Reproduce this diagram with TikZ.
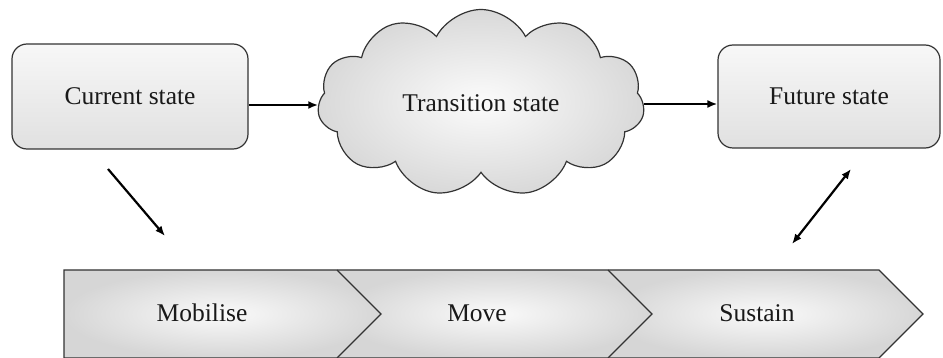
\documentclass[tikz,border=0pt]{standalone}
\usepackage{fontspec}
\setmainfont{Liberation Serif}
\usetikzlibrary{shapes.symbols,arrows.meta,calc}
\begin{document}
\begin{tikzpicture}[x=1pt,y=-1pt,
  statebox/.style={draw=black!80, line width=1.2pt, rounded corners=15pt,
    top color=gray!6, bottom color=gray!24, minimum width=236pt,
    minimum height=105pt, inner sep=0pt},
  txt/.style={font=\fontsize{25.5}{30}\selectfont, text=black!90},
  conn/.style={line width=2.2pt, -{Latex[length=10pt,width=8pt]}},
  dconn/.style={line width=2.2pt, {Latex[length=10pt,width=8pt]}-{Latex[length=10pt,width=8pt]}},
  chev/.style={inner color=gray!4, outer color=gray!32},
  chevline/.style={draw=black!80, line width=1.2pt, line join=miter}]
\clip (0,0) rectangle (943,358);
% state boxes
\node[statebox, txt] (cur) at (130,96.5) {Current state};
\node[statebox, txt, minimum width=222pt, minimum height=103pt] (fut) at (829,96.5) {Future state};
% cloud
\node[cloud, cloud puffs=11, cloud puff arc=125, cloud ignores aspect, draw=black!80, line width=1.2pt, inner color=gray!3,
  outer color=gray!30, minimum width=327pt, minimum height=187pt, inner sep=0pt, txt] (cloud) at (481,103) {Transition state};
% horizontal arrows
\draw[conn] ([yshift=-8.5pt]cur.east) -- ([yshift=-8.5pt]cur.east -| cloud.west);
\draw[conn] ([yshift=-1pt]cloud.east) -- ([yshift=-1pt]cloud.east -| fut.west);
% diagonal arrows
\coordinate (d1a) at (108,169);
\coordinate (d1b) at (165,236);
\coordinate (d2a) at (792,244);
\coordinate (d2b) at (851,169);
\draw[conn] (d1a) -- (d1b);
\draw[dconn] (d2a) -- (d2b);
% chevrons
\path[chev] (64,270) -- (337,270) -- (381,314) -- (337,358) -- (64,358) -- cycle;
\path[chev] (337,270) -- (608,270) -- (652,314) -- (608,358) -- (337,358) -- (381,314) -- cycle;
\path[chev] (608,270) -- (879,270) -- (923,314) -- (879,358) -- (608,358) -- (652,314) -- cycle;
\draw[chevline] (64,358) -- (64,270) -- (879,270) -- (923,314) -- (879,358) -- cycle;
\draw[chevline] (337,270) -- (381,314) -- (337,358);
\draw[chevline] (608,270) -- (652,314) -- (608,358);
\node[txt] (mob) at (202,313) {Mobilise};
\node[txt] (mov) at (477,313) {Move};
\node[txt] (sus) at (757,313) {Sustain};
\end{tikzpicture}
\end{document}
